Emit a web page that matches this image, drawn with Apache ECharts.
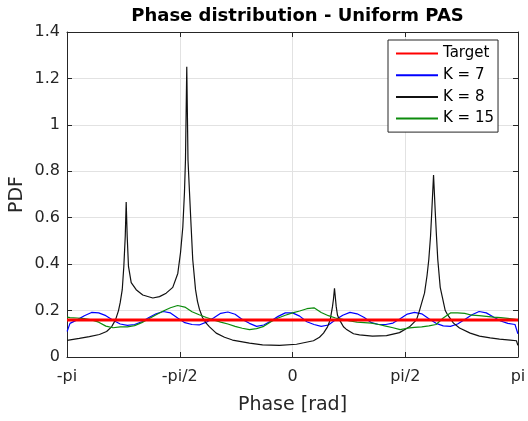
<!DOCTYPE html>
<html><head><meta charset="utf-8">
<script src="https://cdn.jsdelivr.net/npm/echarts@6/dist/echarts.min.js"></script>
<style>html,body{margin:0;padding:0;background:#fff}#c{width:528px;height:421px}</style>
</head><body><div id="c"></div>
<script>
const seriesNames = ['Target', 'K = 7', 'K = 8', 'K = 15'];
const xTickLabels = ['-pi', '-pi/2', '0', 'pi/2', 'pi'];
const yTickLabels = ['0', '0.2', '0.4', '0.6', '0.8', '1', '1.2', '1.4'];

const targetPhase = [-3.1416, 3.1416];
const target = [0.1592, 0.1592];

const gridPhase = [-3.14, -3.1, -3.0, -2.9, -2.8, -2.7, -2.6, -2.5, -2.4, -2.3,
  -2.2, -2.1, -2.0, -1.9, -1.8, -1.7, -1.6, -1.5, -1.4, -1.3,
  -1.2, -1.1, -1.0, -0.9, -0.8, -0.7, -0.6, -0.5, -0.4, -0.3,
  -0.2, -0.1, 0.0, 0.1, 0.2, 0.3, 0.4, 0.5, 0.6, 0.7,
  0.8, 0.9, 1.0, 1.1, 1.2, 1.3, 1.4, 1.5, 1.6, 1.7,
  1.8, 1.9, 2.0, 2.1, 2.2, 2.3, 2.4, 2.5, 2.6, 2.7,
  2.8, 2.9, 3.0, 3.1, 3.14];

const k7 = [0.11, 0.145, 0.16, 0.178, 0.192, 0.19, 0.178, 0.158, 0.142, 0.136,
  0.14, 0.152, 0.17, 0.186, 0.196, 0.19, 0.168, 0.148, 0.14, 0.138,
  0.15, 0.168, 0.188, 0.194, 0.184, 0.162, 0.145, 0.132, 0.138, 0.155,
  0.175, 0.19, 0.19, 0.176, 0.152, 0.14, 0.132, 0.138, 0.16, 0.18,
  0.192, 0.186, 0.17, 0.148, 0.14, 0.14, 0.146, 0.165, 0.185, 0.192,
  0.186, 0.165, 0.145, 0.134, 0.132, 0.142, 0.162, 0.182, 0.196, 0.19,
  0.172, 0.155, 0.145, 0.14, 0.10];

const k15 = [0.172, 0.17, 0.168, 0.165, 0.16, 0.15, 0.133, 0.126, 0.13, 0.13,
  0.135, 0.148, 0.165, 0.182, 0.198, 0.212, 0.222, 0.215, 0.195, 0.182,
  0.17, 0.16, 0.15, 0.142, 0.132, 0.124, 0.118, 0.122, 0.132, 0.152,
  0.168, 0.18, 0.19, 0.198, 0.208, 0.212, 0.192, 0.178, 0.168, 0.162,
  0.155, 0.15, 0.148, 0.146, 0.14, 0.133, 0.126, 0.118, 0.124, 0.128,
  0.13, 0.134, 0.14, 0.168, 0.19, 0.19, 0.188, 0.18, 0.178, 0.175,
  0.172, 0.17, 0.166, 0.162, 0.16];

const k8Phase = [-3.14, -2.97, -2.83, -2.69, -2.59, -2.52, -2.466, -2.424, -2.40, -2.372,
  -2.35, -2.33, -2.317, -2.303, -2.285, -2.247, -2.178, -2.086, -1.946, -1.853,
  -1.76, -1.668, -1.598, -1.56, -1.528, -1.505, -1.491, -1.473, -1.456, -1.435,
  -1.412, -1.39, -1.351, -1.324, -1.296, -1.254, -1.203, -1.156, -1.063, -0.947,
  -0.836, -0.599, -0.418, -0.181, 0.056, 0.292, 0.376, 0.432, 0.488, 0.525,
  0.557, 0.571, 0.585, 0.599, 0.609, 0.627, 0.655, 0.71, 0.748, 0.85,
  0.933, 1.114, 1.31, 1.491, 1.63, 1.727, 1.769, 1.839, 1.874, 1.899,
  1.923, 1.941, 1.965, 1.988, 2.006, 2.024, 2.058, 2.086, 2.128, 2.164,
  2.243, 2.327, 2.476, 2.605, 2.754, 2.884, 3.033, 3.12, 3.14];
const k8 = [0.072, 0.08, 0.088, 0.097, 0.11, 0.13, 0.16, 0.2, 0.235, 0.29,
  0.39, 0.52, 0.668, 0.52, 0.39, 0.32, 0.29, 0.267, 0.254, 0.26,
  0.275, 0.30, 0.36, 0.45, 0.56, 0.71, 0.85, 1.25, 0.85, 0.71,
  0.56, 0.42, 0.29, 0.24, 0.205, 0.17, 0.146, 0.13, 0.103, 0.085,
  0.073, 0.06, 0.052, 0.05, 0.055, 0.07, 0.085, 0.103, 0.13, 0.16,
  0.217, 0.25, 0.296, 0.25, 0.217, 0.18, 0.16, 0.13, 0.12, 0.1,
  0.095, 0.09, 0.092, 0.105, 0.13, 0.16, 0.2, 0.275, 0.35, 0.42,
  0.52, 0.63, 0.784, 0.63, 0.52, 0.42, 0.3, 0.26, 0.2, 0.18,
  0.146, 0.125, 0.103, 0.09, 0.082, 0.077, 0.073, 0.07, 0.05];

const zip = (xs, ys) => xs.map((x, i) => [x, ys[i]]);
const FONT = 'DejaVu Sans';
const AX = '#262626';
const GRIDC = '#e2e2e2';
const HALF = Math.PI / 2;

const chart = echarts.init(document.getElementById('c'), null, {renderer: 'canvas'});

function xAxisDef(pos, main) {
  return {
    type: 'value', position: pos, min: -Math.PI, max: Math.PI, interval: HALF,
    axisLine: {show: true, onZero: false, lineStyle: {color: AX, width: 1}},
    axisTick: {show: true, inside: true, length: 5, lineStyle: {color: AX, width: 1}},
    axisLabel: main ? {show: true, margin: 12, fontFamily: FONT, fontSize: 16, color: AX,
      showMinLabel: true, showMaxLabel: true,
      formatter: v => xTickLabels[Math.round(v / HALF) + 2]} : {show: false},
    splitLine: {show: main, lineStyle: {color: GRIDC, width: 1}},
    name: main ? 'Phase [rad]' : '', nameLocation: 'middle', nameGap: 39,
    nameMoveOverlap: false,
    nameTextStyle: {fontFamily: FONT, fontSize: 19, color: AX}
  };
}
function yAxisDef(pos, main) {
  return {
    type: 'value', position: pos, min: 0, max: 1.4, interval: 0.2,
    axisLine: {show: true, onZero: false, lineStyle: {color: AX, width: 1}},
    axisTick: {show: true, inside: true, length: 5, lineStyle: {color: AX, width: 1}},
    axisLabel: main ? {show: true, margin: 7, fontFamily: FONT, fontSize: 16, color: AX,
      showMinLabel: true, showMaxLabel: true,
      formatter: v => yTickLabels[Math.round(v / 0.2)]} : {show: false},
    splitLine: {show: main, lineStyle: {color: GRIDC, width: 1}},
    name: main ? 'PDF' : '', nameLocation: 'middle', nameGap: 40,
    nameMoveOverlap: false,
    nameTextStyle: {fontFamily: FONT, fontSize: 19, color: AX}
  };
}

function lineSeries(name, data, color, width, z) {
  return {
    name: name, type: 'line', data: data, xAxisIndex: 0, yAxisIndex: 0,
    symbol: 'none', showSymbol: false, smooth: false, z: z,
    lineStyle: {color: color, width: width},
    itemStyle: {color: color}
  };
}

chart.setOption({
  animation: false,
  backgroundColor: '#ffffff',
  title: {
    text: 'Phase distribution - Uniform PAS', left: 292.5, top: 2, textAlign: 'center',
    textStyle: {fontFamily: FONT, fontWeight: 'bold', fontSize: 18, color: '#000'}
  },
  grid: {left: 67, right: 10, top: 32, bottom: 64, containLabel: false, outerBoundsMode: 'none'},
  legend: {
    orient: 'vertical', left: 388, top: 40, data: seriesNames,
    backgroundColor: '#fff', borderColor: AX, borderWidth: 1, borderRadius: 0,
    padding: [6, 4, 6, 7], itemWidth: 42, itemHeight: 15, itemGap: 6.7,
    itemStyle: {opacity: 0},
    textStyle: {fontFamily: FONT, fontSize: 15, color: '#000'}
  },
  xAxis: [xAxisDef('bottom', true), xAxisDef('top', false)],
  yAxis: [yAxisDef('left', true), yAxisDef('right', false)],
  series: [
    lineSeries(seriesNames[1], zip(gridPhase, k7), '#0000ff', 1.2, 3),
    lineSeries(seriesNames[2], zip(k8Phase, k8), '#111111', 1.2, 4),
    lineSeries(seriesNames[3], zip(gridPhase, k15), '#0c8c0c', 1.2, 5),
    lineSeries(seriesNames[0], zip(targetPhase, target), '#ff0000', 3, 6)
  ]
});
</script>
</body></html>
